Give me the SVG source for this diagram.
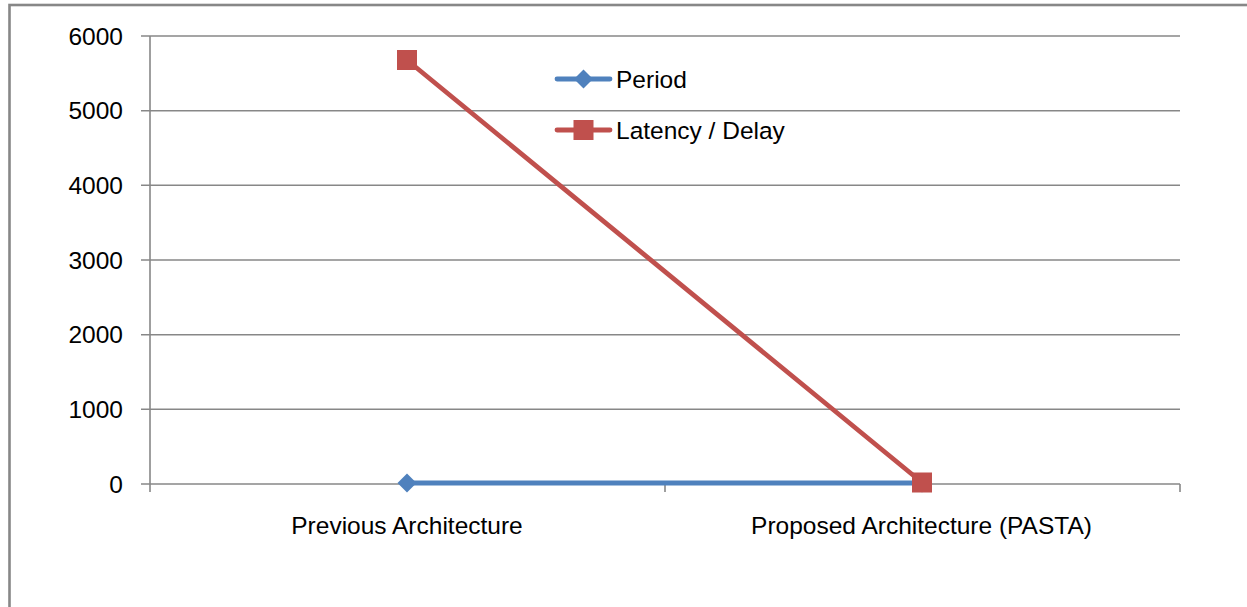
<svg xmlns="http://www.w3.org/2000/svg" width="1247" height="607" viewBox="0 0 1247 607">
  <style>
    .grid { stroke: #878787; stroke-width: 1.6; fill: none; }
    .frame { stroke: #878787; stroke-width: 2.6; fill: none; }
    .lbl { font-family: "Liberation Sans", Arial, sans-serif; font-size: 24.5px; fill: #000; }
    .ylbl { text-anchor: end; }
    .xlbl { text-anchor: middle; }
    .blue { stroke: #4F81BD; stroke-width: 4.8; fill: none; stroke-linecap: round; }
    .red { stroke: #C0504D; stroke-width: 4.8; fill: none; stroke-linecap: round; }
  </style>
  <defs>
    <path id="diamond" d="M0,-9.5 L9.5,0 L0,9.5 L-9.5,0 Z" fill="#4F81BD"/>
    <rect id="square" x="-10" y="-10" width="20" height="20" fill="#C0504D"/>
  </defs>
  <rect x="0" y="0" width="1247" height="607" fill="#fff"/>
  <rect class="frame" x="9.5" y="5" width="1260" height="640"/>

  <g id="axes">
    <line class="grid" x1="141" y1="36" x2="1180" y2="36"/>
    <line class="grid" x1="141" y1="110.7" x2="1180" y2="110.7"/>
    <line class="grid" x1="141" y1="185.3" x2="1180" y2="185.3"/>
    <line class="grid" x1="141" y1="260" x2="1180" y2="260"/>
    <line class="grid" x1="141" y1="334.7" x2="1180" y2="334.7"/>
    <line class="grid" x1="141" y1="409.3" x2="1180" y2="409.3"/>
    <line class="grid" x1="141" y1="484" x2="1180" y2="484"/>
    <line class="grid" x1="150" y1="36" x2="150" y2="492"/>
    <line class="grid" x1="665" y1="484" x2="665" y2="492"/>
    <line class="grid" x1="1180" y1="484" x2="1180" y2="492"/>
  </g>

  <g id="y-labels">
    <text class="lbl ylbl" x="123" y="44.5">6000</text>
    <text class="lbl ylbl" x="123" y="119.2">5000</text>
    <text class="lbl ylbl" x="123" y="193.8">4000</text>
    <text class="lbl ylbl" x="123" y="268.5">3000</text>
    <text class="lbl ylbl" x="123" y="343.2">2000</text>
    <text class="lbl ylbl" x="123" y="417.8">1000</text>
    <text class="lbl ylbl" x="123" y="492.5">0</text>
  </g>

  <g id="x-labels">
    <text class="lbl xlbl" x="407" y="534">Previous Architecture</text>
    <text class="lbl xlbl" x="921.5" y="534">Proposed Architecture (PASTA)</text>
  </g>

  <g id="connectors">
    <line class="blue" x1="407" y1="483" x2="922" y2="483"/>
    <line class="red" x1="407" y1="60" x2="922" y2="482.5"/>
  </g>

  <g id="series-period">
    <use href="#diamond" x="407" y="483"/>
    <use href="#diamond" x="922" y="483"/>
  </g>
  <g id="series-latency">
    <use href="#square" x="407" y="60"/>
    <use href="#square" x="922" y="482.5"/>
  </g>

  <g id="legend">
    <line class="blue" x1="557" y1="79" x2="610" y2="79"/>
    <use href="#diamond" x="583.5" y="79"/>
    <text class="lbl" x="616" y="87.5">Period</text>
    <line class="red" x1="557" y1="130" x2="610" y2="130"/>
    <use href="#square" x="583.5" y="130"/>
    <text class="lbl" x="616" y="138.5">Latency / Delay</text>
  </g>
</svg>
